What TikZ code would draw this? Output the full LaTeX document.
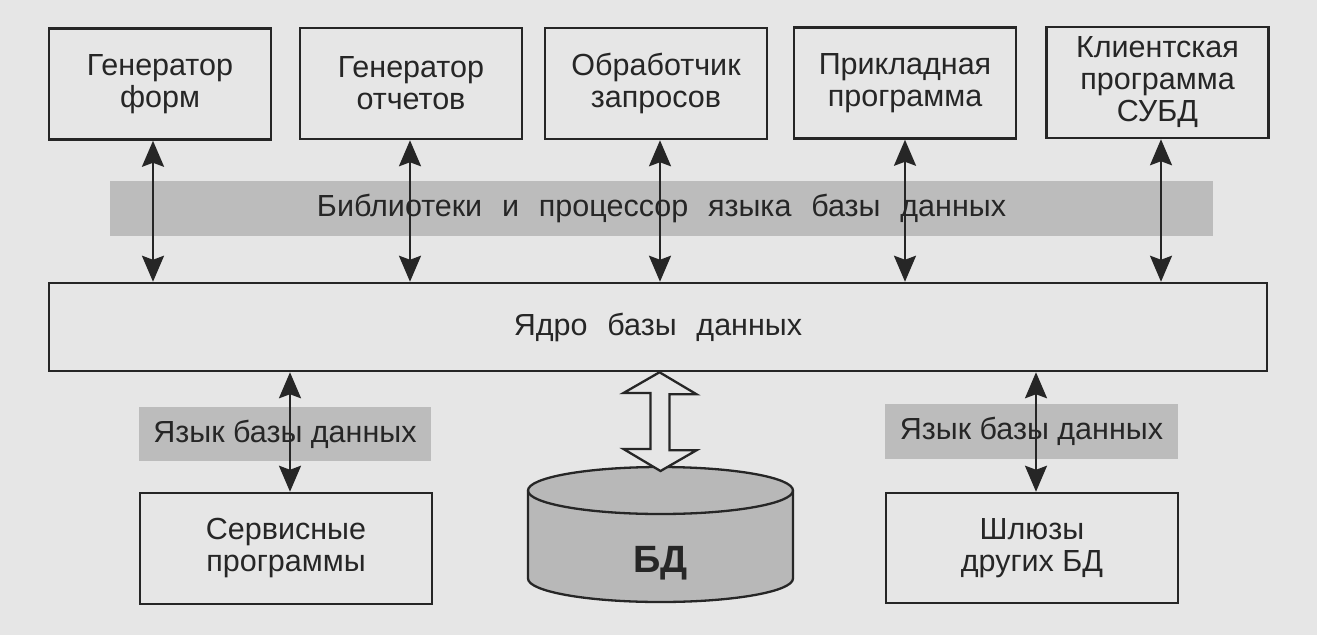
\documentclass[tikz,border=0pt]{standalone}
\usepackage{fontspec}
\setmainfont{Liberation Sans}
\usetikzlibrary{arrows.meta}
\definecolor{bg}{RGB}{230,230,230}
\definecolor{ink}{RGB}{38,38,38}
\definecolor{bandc}{RGB}{188,188,188}
\definecolor{dbfill}{RGB}{184,184,184}
\newcommand\ws{\hspace{0.65em}}
\begin{document}
\begin{tikzpicture}[x=1pt,y=1pt,
  txt/.style={text=ink,font=\fontsize{30.5}{32}\selectfont,align=center,inner sep=0pt},
  box/.style={txt,draw=ink,line width=2.5pt,minimum width=222pt,minimum height=111pt},
  band/.style={txt,fill=bandc,minimum height=55pt},
  dbl/.style={draw=ink,line width=2.3pt,{Stealth[length=26pt,width=22pt,inset=4pt]}-{Stealth[length=26pt,width=22pt,inset=4pt]}},
  hollow/.style={draw=ink,line width=2.3pt,fill=bg,line join=miter}
]
\useasboundingbox (0,0) rectangle (1317,-635);
\fill[bg] (0,0) rectangle (1317,-635);

% top boxes
\node[box] (b1) at (160,-84)  {Генератор\\форм};
\node[box] (b2) at (411,-83.5)  {Генератор\\отчетов};
\node[box] (b3) at (656,-83.5)  {Обработчик\\запросов};
\node[box] (b4) at (905,-83)    {Прикладная\\программа};
\node[box] (b5) at (1157.5,-82.5) {Клиентская\\программа\\СУБД};

% library band
\node[band,minimum width=1103pt] (lib) at (661.5,-208.5)
  {Библиотеки\ws и\ws процессор\ws языка\ws базы\ws данных};

% core
\node[box,minimum width=1218pt,minimum height=88pt] (core) at (658,-327)
  {Ядро\ws базы\ws данных};

% language bands
\node[band,minimum width=292pt,minimum height=54pt] (lang1) at (285,-434) {Язык базы данных};
\node[band,minimum width=293pt] (lang2) at (1031.5,-431.5) {Язык базы данных};

% bottom boxes
\node[box,minimum width=292pt] (sv) at (286,-548.5) {Сервисные\\программы};
\node[box,minimum width=292pt,minimum height=110pt] (gw) at (1032,-548) {Шлюзы\\других БД};

% arrows top
\draw[dbl] ([xshift=-7pt]b1.south) -- ([xshift=-7pt]b1.south |- core.north);
\draw[dbl] ([xshift=-1pt]b2.south) -- ([xshift=-1pt]b2.south |- core.north);
\draw[dbl] ([xshift=4pt]b3.south) -- ([xshift=4pt]b3.south |- core.north);
\draw[dbl] (b4.south) -- (b4.south |- core.north);
\draw[dbl] ([xshift=3.5pt]b5.south) -- ([xshift=3.5pt]b5.south |- core.north);

% arrows bottom
\draw[dbl] ([xshift=4pt]sv.north |- core.south) -- ([xshift=4pt]sv.north);
\draw[dbl] ([xshift=4pt]gw.north |- core.south) -- ([xshift=4pt]gw.north);

% database cylinder
\fill[dbfill] (528,-490.5) -- (528,-578.5)
  arc[start angle=180,end angle=360,x radius=132.5,y radius=23.5] -- (793,-490.5)
  arc[start angle=0,end angle=180,x radius=132.5,y radius=23.5] -- cycle;
\draw[ink,line width=2.3pt] (528,-490.5) -- (528,-578.5)
  arc[start angle=180,end angle=360,x radius=132.5,y radius=23.5] -- (793,-490.5);
\draw[ink,line width=2.3pt] (660.5,-490.5) ellipse[x radius=132.5,y radius=23.5];
\node[txt,font=\fontsize{38}{40}\selectfont\bfseries] (db) at (660.5,-563) {БД};

% hollow double arrow core <-> db
\path (core.south) ++(1.5,0) coordinate (t1);
\path (db.center |- 0,-471) coordinate (t2);
\draw[hollow] (t1) -- ++(37,-22) -- ++(-27,0) -- ++(0,-56) -- ++(27,0)
  -- (t2) -- ++(-37,22) -- ++(27,0) -- ++(0,56) -- ++(-27,0) -- cycle;
\end{tikzpicture}
\end{document}
